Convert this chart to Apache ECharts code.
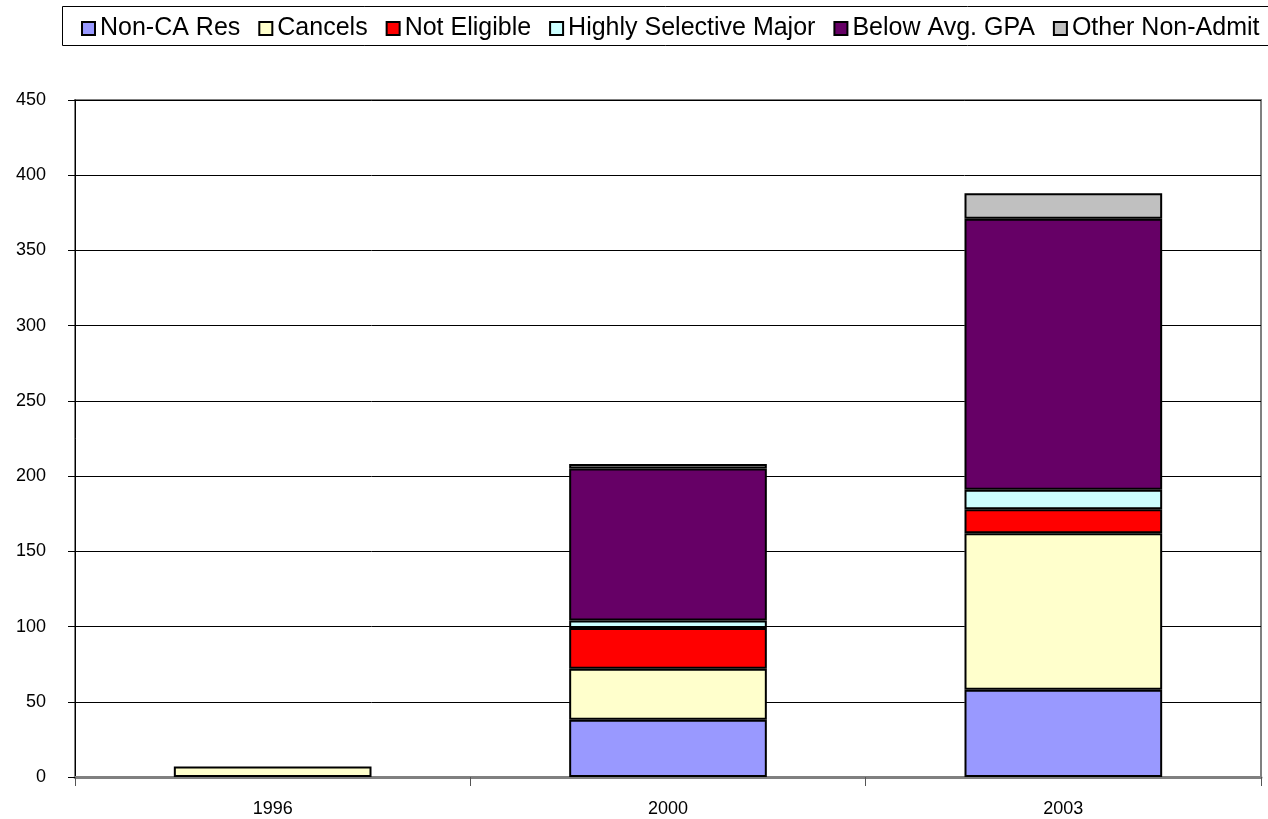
<!DOCTYPE html>
<html><head><meta charset="utf-8">
<script src="https://cdn.jsdelivr.net/npm/echarts@6/dist/echarts.min.js"></script>
<style>html,body{margin:0;padding:0;background:#fff}#c{width:1268px;height:819px}</style>
</head><body><div id="c"></div>
<script>
const categories = ['1996', '2000', '2003'];
const seriesNames = ['Non-CA Res', 'Cancels', 'Not Eligible', 'Highly Selective Major', 'Below Avg. GPA', 'Other Non-Admit'];
const nonCaRes = [null, 38, 58];
const cancels = [7, 34, 104];
const notEligible = [null, 27, 16];
const highlySelective = [null, 5, 13];
const belowAvgGpa = [null, 101, 180];
const otherNonAdmit = [null, 3, 17];
const yTicks = [0, 50, 100, 150, 200, 250, 300, 350, 400, 450];
const colors = ['#9999FF', '#FFFFCC', '#FF0000', '#CCFFFF', '#660066', '#C0C0C0'];
const values = [nonCaRes, cancels, notEligible, highlySelective, belowAvgGpa, otherNonAdmit];

const chart = echarts.init(document.getElementById('c'));
chart.setOption({
  animation: false,
  textStyle: { fontFamily: 'Liberation Sans, Arial, sans-serif', color: '#000' },
  graphic: [{
    type: 'rect', left: 62, top: 6, z: -1,
    shape: { width: 1220, height: 39 },
    style: { fill: '#fff', stroke: '#000', lineWidth: 1 }
  }],
  legend: {
    top: 11, left: 76, width: 1250,
    itemWidth: 13, itemHeight: 13, itemGap: 18,
    icon: 'rect',
    textStyle: { fontSize: 25, color: '#000', fontFamily: 'Liberation Sans, Arial, sans-serif' },
    itemStyle: { borderColor: '#000', borderWidth: 2 },
    data: seriesNames
  },
  grid: { left: 75, right: 7, top: 100, bottom: 42, show: true, borderColor: '#808080', borderWidth: 2, backgroundColor: 'transparent' },
  xAxis: {
    type: 'category', data: categories,
    axisLine: { lineStyle: { color: '#808080', width: 3 } },
    axisTick: { show: true, length: 9, lineStyle: { color: '#555', width: 1 } },
    axisLabel: { fontSize: 18, color: '#000', margin: 23 }
  },
  yAxis: {
    type: 'value', min: yTicks[0], max: yTicks[yTicks.length - 1], interval: 50,
    axisLine: { show: true, lineStyle: { color: '#000', width: 1 } },
    axisTick: { show: true, length: 7, lineStyle: { color: '#000' } },
    axisLabel: { fontSize: 18, color: '#000', margin: 29 },
    splitLine: { lineStyle: { color: '#000', width: 1 } }
  },
  series: seriesNames.map((n, i) => ({
    name: n, type: 'bar', stack: 'a', data: values[i],
    barCategoryGap: '50%',
    itemStyle: { color: colors[i], borderColor: '#000', borderWidth: 2 }
  }))
});
</script></body></html>
